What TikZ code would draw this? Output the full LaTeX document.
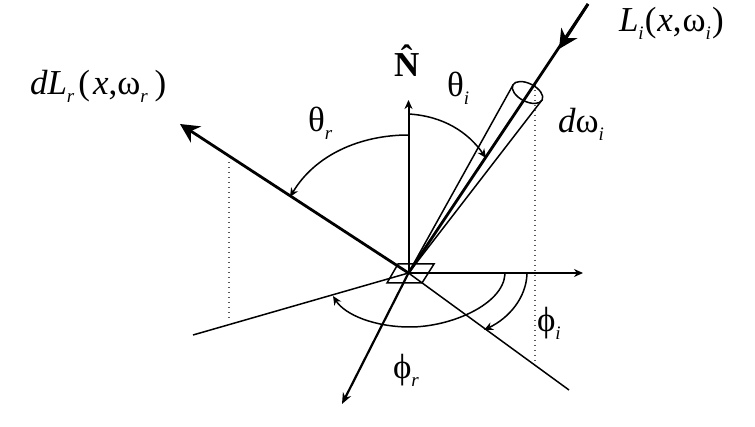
\documentclass[tikz,border=0pt]{standalone}
\usepackage{fontspec}
\setmainfont{Liberation Serif}
\usetikzlibrary{arrows.meta}
\newcommand{\sbx}[1]{\raisebox{-0.22em}{\fontsize{19}{19}\selectfont\itshape #1}}
\tikzset{
  x=1pt,y=-1pt,
  lab/.style={inner sep=0pt,outer sep=0pt,anchor=base west,font=\fontsize{35}{35}\selectfont},
  beam/.style={line width=2.8pt,black},
  ax/.style={line width=2pt,black},
  thin line/.style={line width=1.5pt,black},
  dots/.style={line width=1.5pt,black!65,dash pattern=on 1.5pt off 3.5pt},
  small tip/.style={-{Stealth[length=9pt,width=8pt]}},
  big tip/.style={-{Stealth[length=19pt,width=19pt,inset=6pt]}},
}
\begin{document}
\begin{tikzpicture}
\useasboundingbox (0,0) rectangle (755,427);
\coordinate (O) at (408.5,273);
\coordinate (top) at (408.5,100);
\coordinate (east) at (583,273);
\coordinate (refl) at (180,124);
\coordinate (src) at (588,4);
\coordinate (headtip) at (559,49);
\coordinate (south) at (342,404);
\coordinate (se) at (569,390);
\coordinate (west) at (193,335);
\coordinate (dlt) at (229,162);
\coordinate (dlb) at (229,322);
\coordinate (drt) at (535,85);
\coordinate (drb) at (535,363);
\coordinate (p1) at (398,264);
\coordinate (p2) at (434,264);
\coordinate (p3) at (422,283);
\coordinate (p4) at (387,283);
\coordinate (cl) at (513,85);
\coordinate (cr) at (542,100);
\coordinate (ti0) at (408.5,114);
\coordinate (ti1) at (486,158);
\coordinate (tr0) at (408.5,135);
\coordinate (tr1) at (290,197);
\coordinate (pr0) at (505,274);
\coordinate (pr1) at (333,296);
\coordinate (pi0) at (527,274);
\coordinate (pi1) at (484,330);
% dotted drop lines
\draw[dots] (dlt) -- (dlb);
\draw[dots] (drt) -- (drb);
% surface patch
\draw[thin line] (p1) -- (p2) -- (p3) -- (p4) -- cycle;
% plain lines
\draw[thin line] (O) -- (se);
\draw[thin line] (O) -- (west);
% axes
\draw[ax,small tip] (O) -- (top);
\draw[ax,small tip] (O) -- (east);
\draw[ax,line width=2.2pt,-{Stealth[length=11pt,width=9pt]}] (O) -- (south);
% cone
\draw[thin line] (O) -- (cl);
\draw[thin line] (O) -- (cr);
\draw[thin line,rotate around={-27:(527.5,92.5)}] (527.5,92.5) ellipse (16.5 and 9);
% beams
\draw[beam,big tip] (O) -- (refl);
\draw[beam] (O) -- (src);
\draw[beam,big tip] (src) -- (headtip);
% angle arcs
\draw[thin line,small tip] (ti0) .. controls (443,116) and (468,132) .. (ti1);
\draw[thin line,small tip] (tr0) .. controls (360,135) and (315,155) .. (tr1);
\draw[thin line,small tip] (pr0) .. controls (503,305) and (450,327) .. (410,327) .. controls (375,327) and (345,315) .. (pr1);
\draw[thin line,small tip] (pi0) .. controls (526,298) and (509,318) .. (pi1);
% labels
\node[lab] (nhat) at (394,77) {\fontsize{35}{35}\selectfont\textbf{\makebox[0pt][l]{\makebox[0.72em][c]{\raisebox{0.2em}{ˆ}}}N}};
\node[lab] (li) at (619,32) {\textit{L}\sbx{i}\kern1pt(\kern1pt\textit{x},\kern1ptω\sbx{i}\kern1pt)};
\node[lab] (dl) at (30,95) {\textit{dL}\sbx{r}\kern4pt(\kern3pt\textit{x},ω\sbx{r}\kern7pt)};
\node[lab] (tr) at (308,132) {θ\sbx{r}};
\node[lab] (ti) at (447,97) {θ\sbx{i}};
\node[lab] (dw) at (558,133) {\textit{d}ω\sbx{i}};
\node[lab] (pi) at (537,332) {ϕ\sbx{i}};
\node[lab] (pr) at (393,379) {ϕ\sbx{r}};
\end{tikzpicture}
\end{document}
